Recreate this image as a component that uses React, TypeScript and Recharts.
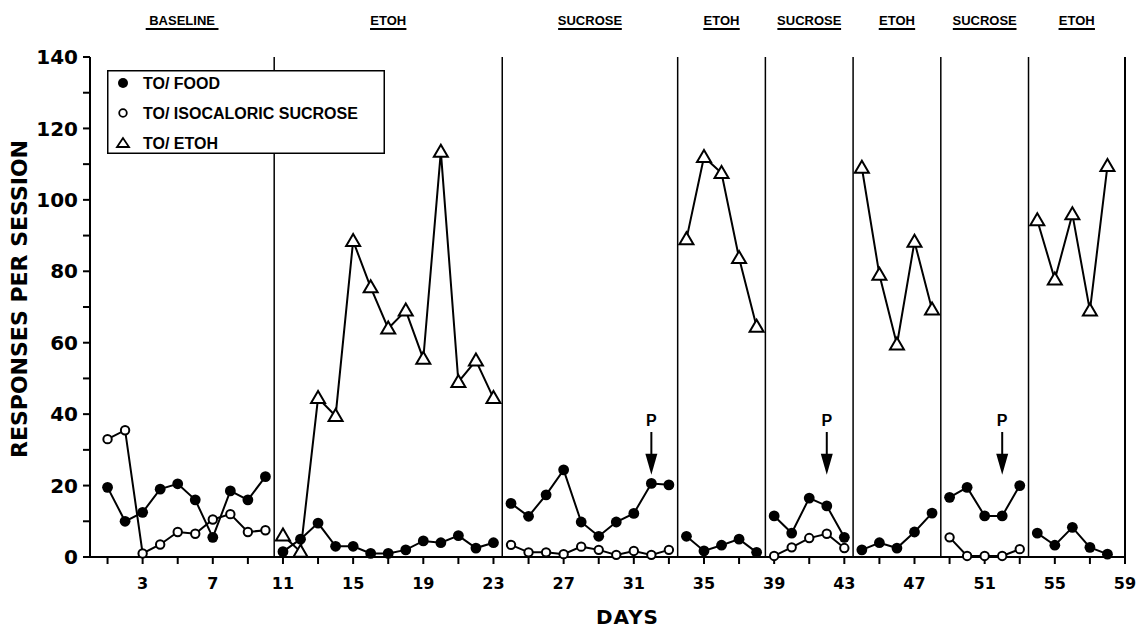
import React from 'react';
import { LineChart, Line, XAxis, YAxis, ReferenceLine, ReferenceArea, Legend } from 'recharts';

// experimental phases (first day of each)
const phaseNames = ['BASELINE', 'ETOH', 'SUCROSE', 'ETOH', 'SUCROSE', 'ETOH', 'SUCROSE', 'ETOH'];
const phaseStartDays = [1, 11, 24, 34, 39, 44, 49, 54];
const lastDay = 59;

// responses per session, one list per phase (empty = not offered)
const foodResponses = [
    [19.5, 10, 12.5, 19, 20.5, 16, 5.5, 18.5, 16, 22.5],
    [1.5, 5, 9.5, 3, 3, 1, 1, 2, 4.5, 4, 6, 2.5, 4],
    [15, 11.4, 17.4, 24.4, 9.8, 5.8, 9.8, 12.2, 20.6, 20.2],
    [5.8, 1.7, 3.3, 5, 1.3],
    [11.5, 6.7, 16.5, 14.3, 5.5],
    [2, 4, 2.5, 7, 12.3],
    [16.7, 19.5, 11.5, 11.5, 20],
    [6.7, 3.3, 8.3, 2.7, 0.8],
];
const sucroseResponses = [
    [33, 35.5, 1, 3.5, 7, 6.5, 10.5, 12, 7, 7.5],
    [],
    [3.4, 1.3, 1.3, 0.8, 2.9, 2, 0.6, 1.7, 0.6, 2],
    [],
    [0.3, 2.7, 5.3, 6.5, 2.5],
    [],
    [5.5, 0.3, 0.3, 0.3, 2.2],
    [],
];
const etohResponses = [
    [],
    [6, 1.5, 44.5, 39.5, 88.5, 75.5, 64, 69, 55.5, 113.5, 49, 55, 44.5],
    [],
    [89, 112, 107.5, 83.7, 64.5],
    [],
    [109, 79, 59.5, 88.3, 69.3],
    [],
    [94.3, 77.7, 96, 69, 109.5],
];

const probeDays = [32, 42, 52];

const yTicks = [0, 10, 20, 30, 40, 50, 60, 70, 80, 90, 100, 110, 120, 130, 140];
const yLabelled = [0, 20, 40, 60, 80, 100, 120, 140];
const xTicks = [1, 3, 5, 7, 9, 11, 13, 15, 17, 19, 21, 23, 25, 27, 29, 31, 33, 35, 37, 39, 41, 43, 45, 47, 49, 51, 53, 55, 57, 59];
const xLabelled = [3, 7, 11, 15, 19, 23, 27, 31, 35, 39, 43, 47, 51, 55, 59];

const toRows = (values: number[], start: number) => values.map((v, i) => ({ day: start + i, value: v }));

const FilledDot = (p: any) => <circle key={`f-${p.index}`} cx={p.cx} cy={p.cy} r={5.4} fill="#000" />;
const OpenDot = (p: any) => <circle key={`o-${p.index}`} cx={p.cx} cy={p.cy} r={4.2} fill="#fff" stroke="#000" strokeWidth={2} />;
const TriangleDot = (p: any) => (
    <polygon
        key={`t-${p.index}`}
        points={`${p.cx},${p.cy - 7} ${p.cx - 7},${p.cy + 5} ${p.cx + 7},${p.cy + 5}`}
        fill="#fff"
        stroke="#000"
        strokeWidth={2}
    />
);

const ProbeArrow = (props: any) => {
    const { x1, y1, x2, y2 } = props;
    return (
        <g>
            <text x={x1} y={y1 - 6} textAnchor="middle" fontFamily="'Liberation Sans', Arial, sans-serif" fontWeight="bold" fontSize={16} fill="#000">P</text>
            <line x1={x1} y1={y1} x2={x2} y2={y2 - 18} stroke="#000" strokeWidth={2} />
            <polygon points={`${x2 - 6},${y2 - 21} ${x2 + 6},${y2 - 21} ${x2},${y2}`} fill="#000" />
        </g>
    );
};

const PhaseTitle = (name: string) => (props: any) => {
    const { viewBox } = props;
    const cx = viewBox.x + viewBox.width / 2;
    const w = name.length * 0.7 * 13; // rough underline length
    return (
        <g>
            <text x={cx} y={25} textAnchor="middle" fontFamily="'Liberation Sans', Arial, sans-serif" fontWeight="bold" fontSize={13} fill="#000">{name}</text>
            <line x1={cx - w / 2} x2={cx + w / 2} y1={29} y2={29} stroke="#000" strokeWidth={1.8} />
        </g>
    );
};

const legendItems = [
    { text: 'TO/ FOOD', kind: 'filled' },
    { text: 'TO/ ISOCALORIC SUCROSE', kind: 'open' },
    { text: 'TO/ ETOH', kind: 'triangle' },
];

const LegendBox = () => (
    <svg width={278} height={84} style={{ display: 'block' }}>
        <rect x={0.75} y={0.75} width={276.5} height={82.5} fill="#fff" stroke="#000" strokeWidth={1.5} />
        {legendItems.map((item, i) => {
            const cy = 13 + i * 30;
            return (
                <g key={item.text}>
                    {item.kind === 'filled' && <circle cx={16} cy={cy} r={5} fill="#000" />}
                    {item.kind === 'open' && <circle cx={16} cy={cy} r={3.8} fill="#fff" stroke="#000" strokeWidth={1.8} />}
                    {item.kind === 'triangle' && (
                        <polygon points={`16,${cy - 5} ${10},${cy + 4} ${22},${cy + 4}`} fill="#fff" stroke="#000" strokeWidth={1.8} />
                    )}
                    <text x={36} y={cy + 6} fontFamily="'Liberation Sans', Arial, sans-serif" fontWeight="bold" fontSize={16} fill="#000">{item.text}</text>
                </g>
            );
        })}
    </svg>
);

export default function App() {
    const boundaries = phaseStartDays.slice(1).map(d => d - 0.5);
    const axisFont = { fontFamily: "'DejaVu Sans', sans-serif", fontWeight: 'bold', fill: '#000' };

    return (
        <div style={{ position: 'absolute', left: 0, top: 0, background: '#fff' }}>
            <LineChart width={1142} height={632} margin={{ top: 57, right: 17, bottom: 0, left: 0 }}>
                <XAxis
                    dataKey="day"
                    type="number"
                    domain={[0, lastDay]}
                    ticks={xTicks}
                    interval={0}
                    tickFormatter={(d: number) => (xLabelled.includes(d) ? String(d) : '')}
                    tick={{ ...axisFont, fontSize: 16 }}
                    tickSize={7}
                    tickMargin={14}
                    axisLine={{ stroke: '#000', strokeWidth: 2 }}
                    tickLine={{ stroke: '#000', strokeWidth: 2 }}
                    height={75}
                    label={{ value: 'DAYS', position: 'insideBottom', offset: 8, dx: 20, style: { ...axisFont, fontSize: 20, letterSpacing: 1 } }}
                />
                <YAxis
                    type="number"
                    domain={[0, 140]}
                    ticks={yTicks}
                    interval={0}
                    tickFormatter={(v: number) => (yLabelled.includes(v) ? String(v) : '')}
                    tick={{ ...axisFont, fontSize: 20 }}
                    tickSize={7}
                    tickMargin={5}
                    axisLine={{ stroke: '#000', strokeWidth: 2 }}
                    tickLine={{ stroke: '#000', strokeWidth: 2 }}
                    width={90}
                    label={{ value: 'RESPONSES PER SESSION', angle: -90, position: 'insideLeft', offset: 19, dy: -8, style: { ...axisFont, fontSize: 22, textAnchor: 'middle' } }}
                />
                {phaseNames.map((name, p) => (
                    <ReferenceArea
                        key={`area-${p}`}
                        x1={p === 0 ? 0 : phaseStartDays[p] - 0.5}
                        x2={p === phaseNames.length - 1 ? lastDay : phaseStartDays[p + 1] - 0.5}
                        fill="#fff"
                        fillOpacity={0}
                        stroke="none"
                        label={PhaseTitle(name)}
                    />
                ))}
                {boundaries.map(b => (
                    <ReferenceLine key={`b-${b}`} x={b} stroke="#000" strokeWidth={1.5} />
                ))}
                <ReferenceLine x={lastDay} stroke="#000" strokeWidth={2} />
                {probeDays.map(d => (
                    <ReferenceLine key={`p-${d}`} segment={[{ x: d, y: 35 }, { x: d, y: 23 }]} shape={ProbeArrow} />
                ))}
                {phaseStartDays.map((start, p) => foodResponses[p].length > 0 && (
                    <Line key={`food-${p}`} data={toRows(foodResponses[p], start)} dataKey="value" stroke="#000" strokeWidth={2} dot={FilledDot} activeDot={false} isAnimationActive={false} legendType="none" />
                ))}
                {phaseStartDays.map((start, p) => sucroseResponses[p].length > 0 && (
                    <Line key={`suc-${p}`} data={toRows(sucroseResponses[p], start)} dataKey="value" stroke="#000" strokeWidth={2} dot={OpenDot} activeDot={false} isAnimationActive={false} legendType="none" />
                ))}
                {phaseStartDays.map((start, p) => etohResponses[p].length > 0 && (
                    <Line key={`etoh-${p}`} data={toRows(etohResponses[p], start)} dataKey="value" stroke="#000" strokeWidth={2} dot={TriangleDot} activeDot={false} isAnimationActive={false} legendType="none" />
                ))}
                <Legend
                    layout="horizontal"
                    verticalAlign="middle"
                    align="center"
                    content={() => <LegendBox />}
                    wrapperStyle={{ left: 107, top: 70, width: 278, height: 84 }}
                />
            </LineChart>
        </div>
    );
}
